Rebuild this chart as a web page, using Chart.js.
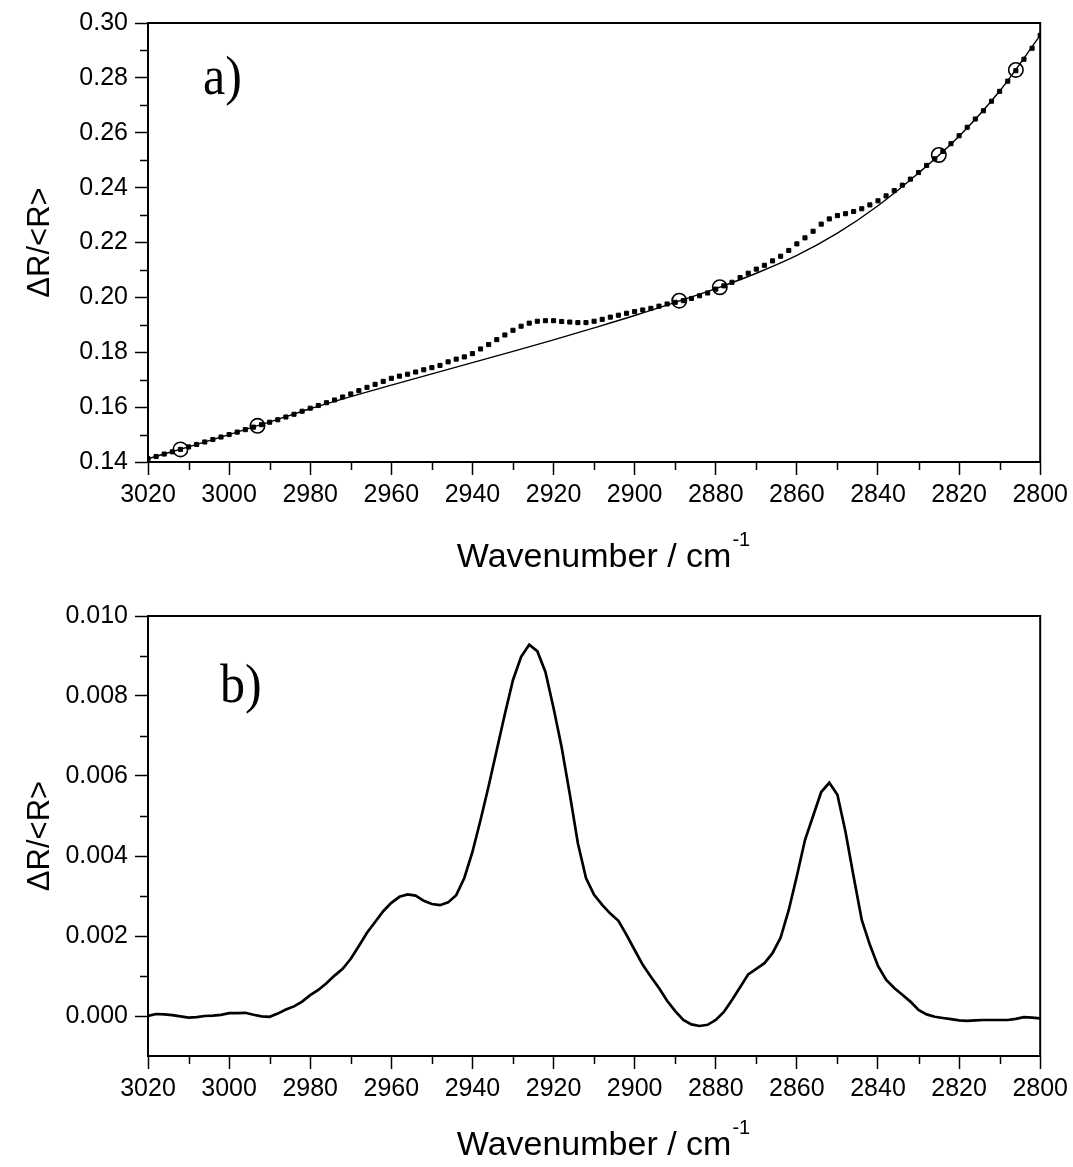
<!DOCTYPE html>
<html><head><meta charset="utf-8">
<script src="https://cdn.jsdelivr.net/npm/chart.js@4.4.0/dist/chart.umd.min.js"></script>
<style>
html,body{margin:0;padding:0;background:#fff;}
#wrap{position:relative;width:1073px;height:1167px;background:#fff;}
.box{position:absolute;left:0;width:1073px;}
</style></head><body>
<div id="wrap">
<div class="box" style="top:0;height:590px"><canvas id="ca" width="1073" height="590"></canvas></div>
<div class="box" style="top:590px;height:577px"><canvas id="cb" width="1073" height="577"></canvas></div>
</div>
<script>
// ---- data ----
const wavenumbers = [
3020,3018,3016,3014,3012,3010,3008,3006,3004,3002,
3000,2998,2996,2994,2992,2990,2988,2986,2984,2982,
2980,2978,2976,2974,2972,2970,2968,2966,2964,2962,
2960,2958,2956,2954,2952,2950,2948,2946,2944,2942,
2940,2938,2936,2934,2932,2930,2928,2926,2924,2922,
2920,2918,2916,2914,2912,2910,2908,2906,2904,2902,
2900,2898,2896,2894,2892,2890,2888,2886,2884,2882,
2880,2878,2876,2874,2872,2870,2868,2866,2864,2862,
2860,2858,2856,2854,2852,2850,2848,2846,2844,2842,
2840,2838,2836,2834,2832,2830,2828,2826,2824,2822,
2820,2818,2816,2814,2812,2810,2808,2806,2804,2802,
2800];
// panel a: measured reflectance (squares)
const measuredA = [
0.1412,0.1420,0.1429,0.1437,0.1446,0.1455,0.1464,0.1473,0.1482,0.1491,
0.1500,0.1509,0.1518,0.1527,0.1536,0.1545,0.1554,0.1564,0.1574,0.1585,
0.1596,0.1606,0.1616,0.1626,0.1637,0.1648,0.1660,0.1672,0.1683,0.1694,
0.1705,0.1713,0.1720,0.1728,0.1736,0.1744,0.1752,0.1765,0.1775,0.1783,
0.1795,0.1812,0.1828,0.1846,0.1863,0.1880,0.1895,0.1906,0.1913,0.1915,
0.1915,0.1912,0.1910,0.1908,0.1908,0.1913,0.1920,0.1928,0.1935,0.1942,
0.1948,0.1954,0.1960,0.1968,0.1976,0.1982,0.1988,0.1996,0.2006,0.2016,
0.2030,0.2042,0.2055,0.2072,0.2088,0.2103,0.2117,0.2133,0.2150,0.2171,
0.2195,0.2217,0.2241,0.2267,0.2286,0.2298,0.2305,0.2313,0.2323,0.2337,
0.2352,0.2370,0.2389,0.2409,0.2431,0.2455,0.2481,0.2505,0.2532,0.2560,
0.2589,0.2620,0.2650,0.2680,0.2715,0.2751,0.2788,0.2826,0.2868,0.2908,
0.2955];
// panel a: baseline anchor points (open circles)
const anchorWn   = [3012, 2993, 2889, 2879, 2825, 2806];
const anchorVals = [0.1446, 0.1532, 0.1988, 0.2037, 0.2519, 0.2829];
// panel a: fitted baseline (solid line)
const baselineWn = [3020,3010,3000,2990,2980,2970,2960,2950,2940,2930,2920,2910,2900,2890,2880,2870,2860,2850,2840,2830,2820,2810,2800];
const baselineVals = [0.1412,0.1455,0.1500,0.1546,0.1594,0.1638,0.1680,0.1721,0.1762,0.1803,0.1845,0.1889,0.1934,0.1982,0.2032,0.2088,0.2153,0.2234,0.2334,0.2453,0.2587,0.2752,0.2955];
// panel b: baseline-corrected spectrum
const spectrumB = [
0.00000,0.00005,0.00004,0.00002,-0.00001,-0.00004,-0.00003,0.00000,0.00001,0.00003,
0.00007,0.00007,0.00008,0.00003,-0.00001,-0.00002,0.00006,0.00016,0.00024,0.00036,
0.00052,0.00065,0.00082,0.00101,0.00118,0.00143,0.00175,0.00208,0.00235,0.00262,
0.00283,0.00298,0.00304,0.00301,0.00288,0.00280,0.00277,0.00284,0.00302,0.00345,
0.00410,0.00490,0.00575,0.00665,0.00755,0.00840,0.00898,0.00928,0.00912,0.00860,
0.00770,0.00672,0.00555,0.00432,0.00345,0.00303,0.00278,0.00256,0.00238,0.00203,
0.00165,0.00128,0.00098,0.00070,0.00038,0.00012,-0.00010,-0.00021,-0.00025,-0.00022,
-0.00010,0.00010,0.00040,0.00072,0.00104,0.00118,0.00132,0.00157,0.00196,0.00265,
0.00350,0.00440,0.00500,0.00560,0.00583,0.00553,0.00460,0.00348,0.00240,0.00178,
0.00125,0.00091,0.00070,0.00053,0.00036,0.00015,0.00004,-0.00002,-0.00005,-0.00008,
-0.00011,-0.00012,-0.00011,-0.00010,-0.00010,-0.00010,-0.00010,-0.00007,-0.00003,-0.00004,
-0.00006];
// ticks
const xTicks  = [3020,3000,2980,2960,2940,2920,2900,2880,2860,2840,2820,2800];
const yTicksA = [0.14,0.16,0.18,0.20,0.22,0.24,0.26,0.28,0.30];
const yTicksB = [0.000,0.002,0.004,0.006,0.008,0.010];
const xTitle = 'Wavenumber / cm';
const xTitleSup = '-1';
const yTitle = 'ΔR/<R>';

// ---- rendering ----
Chart.defaults.font.family = "'Liberation Sans', Arial, sans-serif";
Chart.defaults.color = '#000';
const pts = (xs, ys) => xs.map((x, i) => ({x, y: ys[i]}));

const decor = {
  id: 'decor',
  afterDraw(chart, args, o) {
    const {ctx, chartArea: a, scales: {x, y}} = chart;
    ctx.save();
    ctx.strokeStyle = '#000';
    // minor ticks
    ctx.lineWidth = 1.5;
    ctx.beginPath();
    for (let i = 0; i < xTicks.length - 1; i++) {
      const px = Math.round(x.getPixelForValue((xTicks[i] + xTicks[i + 1]) / 2)) + 0.5;
      ctx.moveTo(px, a.bottom); ctx.lineTo(px, a.bottom + 8);
    }
    const yt = o.yTicks;
    for (let i = 0; i < yt.length - 1; i++) {
      const py = Math.round(y.getPixelForValue((yt[i] + yt[i + 1]) / 2)) + 0.5;
      ctx.moveTo(a.left, py); ctx.lineTo(a.left - 8, py);
    }
    ctx.stroke();
    // frame
    ctx.lineWidth = 2;
    ctx.strokeRect(a.left, a.top, a.right - a.left, a.bottom - a.top);
    // superscript on x title
    const tf = x.options.title.font;
    ctx.font = tf.size + 'px ' + Chart.defaults.font.family;
    const w = ctx.measureText(xTitle).width;
    const cx = (a.left + a.right) / 2;
    const ty = x.bottom - (tf.size * 1.2 / 2 + x.options.title.padding.bottom);
    ctx.font = '20px ' + Chart.defaults.font.family;
    ctx.fillStyle = '#000';
    ctx.textBaseline = 'middle';
    ctx.textAlign = 'left';
    ctx.fillText(xTitleSup, cx + w / 2 + 1, ty - 17);
    // panel label
    ctx.translate(o.lx, o.ly);
    ctx.scale(1, 1.08);
    ctx.font = '50px "Liberation Serif", "Times New Roman", serif';
    ctx.textBaseline = 'alphabetic';
    ctx.fillText(o.label, 0, 0);
    ctx.restore();
  }
};

function makeChart(id, datasets, yMin, yMax, yTicks, digits, layoutPad, xH, titlePadB, yTitlePad, label, lx, ly) {
  return new Chart(document.getElementById(id), {
    type: 'scatter',
    data: { datasets },
    plugins: [decor],
    options: {
      responsive: false, animation: false,
      layout: { padding: layoutPad },
      plugins: { legend: { display: false }, tooltip: { enabled: false },
        decor: { yTicks, label, lx, ly } },
      scales: {
        x: {
          type: 'linear', reverse: true, min: 2800, max: 3020,
          afterFit(s) { s.height = xH; },
          afterBuildTicks(s) { s.ticks = xTicks.map(v => ({value: v})); },
          ticks: { callback: v => String(v), font: { size: 25 }, color: '#000', padding: 5, maxRotation: 0, autoSkip: false },
          grid: { drawOnChartArea: false, drawTicks: true, tickLength: 13, tickWidth: 1.5, tickColor: '#000' },
          border: { display: true, color: '#000', width: 2 },
          title: { display: true, text: xTitle, font: { size: 34 }, color: '#000', padding: { top: 0, bottom: titlePadB } }
        },
        y: {
          min: yMin, max: yMax,
          afterFit(s) { s.width = 148; },
          afterBuildTicks(s) { s.ticks = yTicks.map(v => ({value: v})); },
          ticks: { callback: v => v.toFixed(digits), font: { size: 25 }, color: '#000', padding: 7 },
          grid: { drawOnChartArea: false, drawTicks: true, tickLength: 13, tickWidth: 1.5, tickColor: '#000' },
          border: { display: true, color: '#000', width: 2 },
          title: { display: true, text: yTitle, font: { size: 31 }, color: '#000', padding: { top: yTitlePad, bottom: 0 } }
        }
      }
    }
  });
}

makeChart('ca', [
  { label: 'baseline fit', type: 'line', data: pts(baselineWn, baselineVals), showLine: true,
    borderColor: '#000', borderWidth: 1.4, pointRadius: 0, cubicInterpolationMode: 'monotone', order: 3 },
  { label: 'measured', data: pts(wavenumbers, measuredA), showLine: false,
    pointStyle: 'rect', pointRadius: 2.9, borderWidth: 1, backgroundColor: '#000', borderColor: '#000', order: 2 },
  { label: 'anchor points', data: pts(anchorWn, anchorVals), showLine: false,
    pointStyle: 'circle', pointRadius: 7.2, borderWidth: 1.6, backgroundColor: 'rgba(0,0,0,0)', borderColor: '#000', order: 1 }
], 0.14, 0.30, yTicksA, 2, { top: 23, right: 32, left: 0, bottom: 0 }, 128, 12, 22, 'a)', 203, 94);

makeChart('cb', [
  { label: 'difference spectrum', type: 'line', data: pts(wavenumbers, spectrumB), showLine: true,
    borderColor: '#000', borderWidth: 2.7, pointRadius: 0, tension: 0 }
], -0.001, 0.010, yTicksB, 3, { top: 26, right: 32, left: 0, bottom: 0 }, 111, 1, 22, 'b)', 220, 112);
</script>
</body></html>
